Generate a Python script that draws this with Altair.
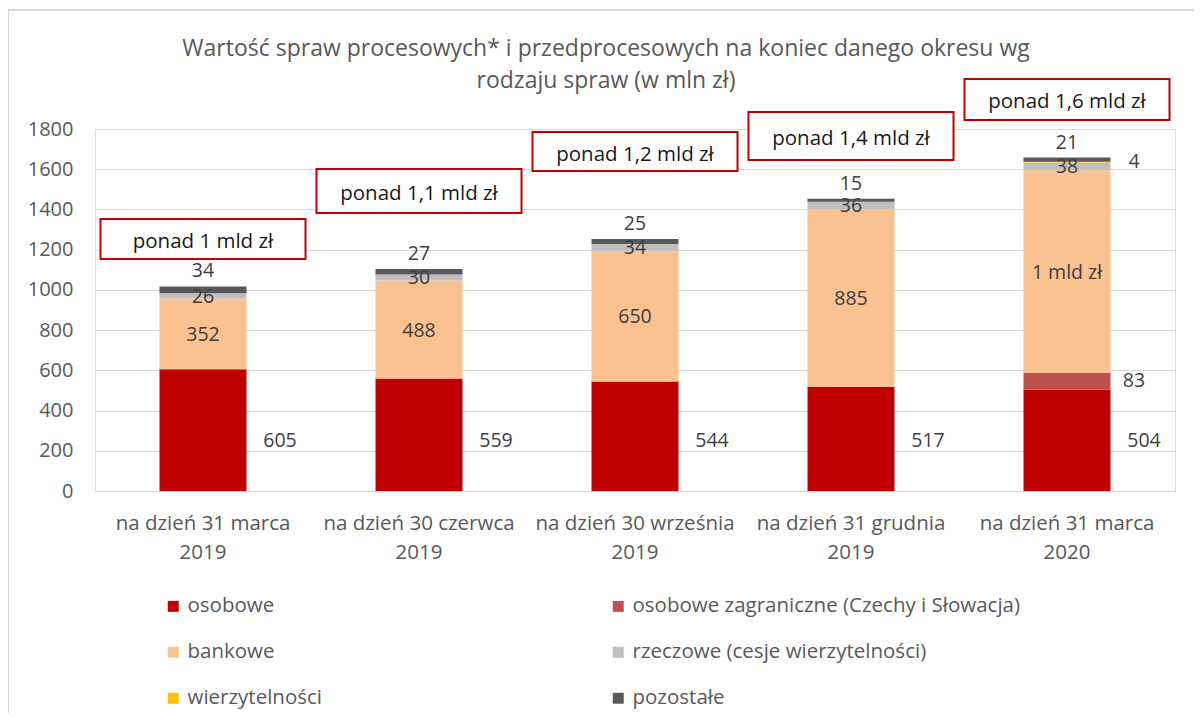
import altair as alt
import pandas as pd

categories = [
    "na dzień 31 marca|2019",
    "na dzień 30 czerwca|2019",
    "na dzień 30 września|2019",
    "na dzień 31 grudnia|2019",
    "na dzień 31 marca|2020",
]
series_names = [
    "osobowe",
    "osobowe zagraniczne (Czechy i Słowacja)",
    "bankowe",
    "rzeczowe (cesje wierzytelności)",
    "wierzytelności",
    "pozostałe",
]
series_colors = ["#C00000", "#C0504D", "#FAC191", "#BFBFBF", "#FFC000", "#595959"]

osobowe = [605, 559, 544, 517, 504]
zagraniczne = [0, 0, 0, 0, 83]
bankowe = [352, 488, 650, 885, 1008]
rzeczowe = [26, 30, 34, 36, 38]
wierzytelnosci = [0, 0, 0, 0, 4]
pozostale = [34, 27, 25, 15, 21]
bankowe_labels = ["352", "488", "650", "885", "1 mld zł"]

annotation_texts = ["ponad 1 mld zł", "ponad 1,1 mld zł", "ponad 1,2 mld zł",
                    "ponad 1,4 mld zł", "ponad 1,6 mld zł"]
annotation_low = [1154, 1382, 1591, 1646, 1845]
annotation_high = [1353, 1601, 1785, 1885, 2049]

title_lines = ["Wartość spraw procesowych* i przedprocesowych na koniec danego okresu wg",
               "rodzaju spraw (w mln zł)"]
y_ticks = [0, 200, 400, 600, 800, 1000, 1200, 1400, 1600, 1800]

series_values = [osobowe, zagraniczne, bankowe, rzeczowe, wierzytelnosci, pozostale]

rows = []
for i, cat in enumerate(categories):
    cum = 0
    for j, name in enumerate(series_names):
        v = series_values[j][i]
        label = str(v)
        if j == 2:
            label = bankowe_labels[i]
        rows.append({
            "cat": cat, "series": name, "idx": j, "value": v,
            "start": cum, "end": cum + v, "mid": cum + v / 2, "label": label,
        })
        cum += v
df = pd.DataFrame(rows)

ann = pd.DataFrame({
    "cat": categories, "text": annotation_texts,
    "low": annotation_low, "high": annotation_high,
})
ann["mid"] = (ann["low"] + ann["high"]) / 2

title_df = pd.DataFrame({"line": title_lines, "row": [0, 1]})

FONT = "Open Sans"
GREY = "#595959"

x_enc = alt.X("cat:N", sort=categories, title=None,
              scale=alt.Scale(paddingInner=0, paddingOuter=0),
              axis=alt.Axis(labelExpr="split(datum.label, '|')", labelAngle=0,
                            labelFontSize=20.5, labelColor=GREY, labelFont=FONT,
                            labelLineHeight=29, labelPadding=22, ticks=False,
                            domainColor="#D9D9D9", labelLimit=0))
y_scale = alt.Scale(domain=[0, 1800], nice=False)

base = alt.Chart(df)

bars = base.mark_bar(size=87).encode(
    x=x_enc,
    y=alt.Y("start:Q", scale=y_scale, title=None,
            axis=alt.Axis(values=y_ticks, format="d", labelFontSize=20, labelColor=GREY,
                          labelFont=FONT, labelPadding=22, ticks=False,
                          domain=False, gridColor="#D9D9D9", gridWidth=1)),
    y2="end:Q",
    color=alt.Color("series:N", scale=alt.Scale(domain=series_names, range=series_colors),
                    legend=alt.Legend(title=None, orient="none", legendX=68, legendY=467,
                                      direction="horizontal",
                                      columns=2, columnPadding=286, rowPadding=25,
                                      symbolType="square", symbolSize=120,
                                      symbolStrokeWidth=0, labelFontSize=20.5,
                                      labelColor=GREY, labelFont=FONT, labelLimit=0,
                                      padding=0, labelOffset=4)),
    order=alt.Order("idx:Q"),
)

txt = dict(fontSize=19.5, color="#404040", font=FONT)

lab_oso = base.transform_filter(alt.datum.idx == 0).mark_text(dx=77, **txt).encode(
    x=alt.X("cat:N", sort=categories), y=alt.datum(250), text="label:N")
lab_side = base.transform_filter(
    "(datum.idx == 1 || datum.idx == 4) && datum.value > 0").mark_text(dx=67, **txt).encode(
    x=alt.X("cat:N", sort=categories), y="mid:Q", text="label:N")
lab_mid = base.transform_filter(
    "datum.idx == 2 || datum.idx == 3").mark_text(dy=1, **txt).encode(
    x=alt.X("cat:N", sort=categories), y="mid:Q", text="label:N")
lab_top = base.transform_filter(alt.datum.idx == 5).mark_text(dy=-15, **txt).encode(
    x=alt.X("cat:N", sort=categories), y="end:Q", text="label:N")

boxes = alt.Chart(ann).mark_bar(size=205, fill="white", stroke="#C00000",
                                strokeWidth=2).encode(
    x=alt.X("cat:N", sort=categories), y="low:Q", y2="high:Q")
box_text = alt.Chart(ann).mark_text(fontSize=20.5, color="#1A1A1A", font=FONT, dy=3).encode(
    x=alt.X("cat:N", sort=categories), y="mid:Q", text="text:N")

title_style = dict(fontSize=23, color=GREY, font=FONT)
title1 = alt.Chart(title_df).transform_filter(alt.datum.row == 0).mark_text(
    **title_style).encode(x=alt.value(511), y=alt.value(-80), text="line:N")
title2 = alt.Chart(title_df).transform_filter(alt.datum.row == 1).mark_text(
    **title_style).encode(x=alt.value(511), y=alt.value(-48), text="line:N")

border_top = alt.Chart(title_df).transform_filter(alt.datum.row == 0).mark_rule(
    color="#D9D9D9", strokeWidth=2).encode(
    x=alt.value(-87), x2=alt.value(1110), y=alt.value(-119))
border_left = alt.Chart(title_df).transform_filter(alt.datum.row == 0).mark_rule(
    color="#D9D9D9", strokeWidth=2).encode(
    x=alt.value(-87), y=alt.value(-119), y2=alt.value(600))

chart = alt.layer(
    bars, lab_oso, lab_side, lab_mid, lab_top, boxes, box_text, title1, title2,
    border_top, border_left
).properties(
    width=1080, height=362,
    autosize=alt.AutoSizeParams(type="none"),
    padding={"left": 87, "top": 121, "right": 19, "bottom": 222},
).configure_view(stroke=None).configure(font=FONT)

chart.save("out.html", embed_options={"renderer": "svg", "actions": False})
